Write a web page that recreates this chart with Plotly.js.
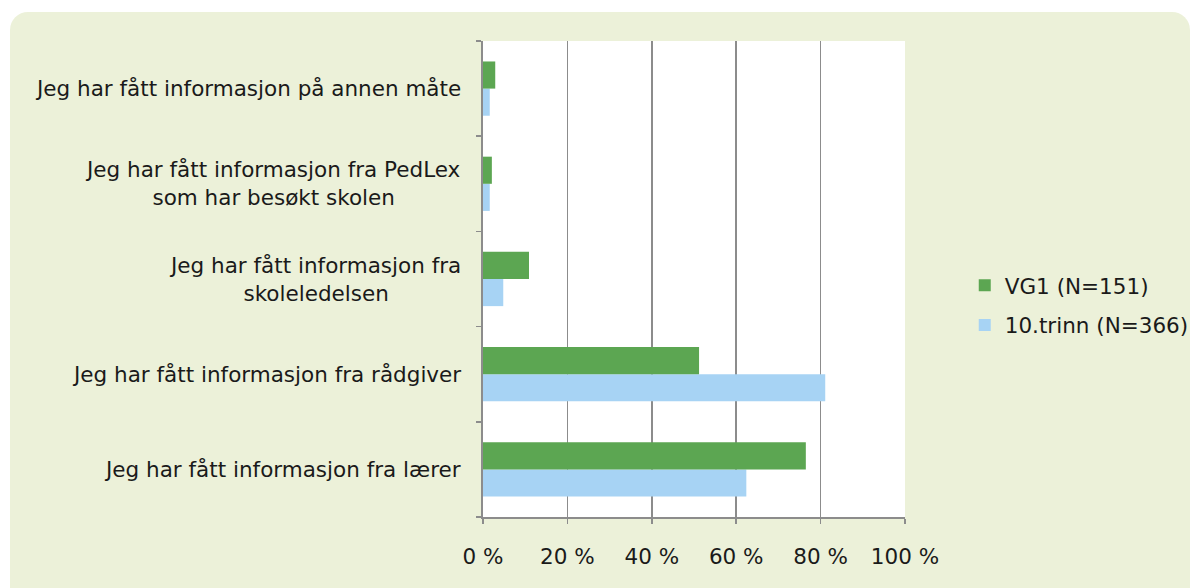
<!DOCTYPE html>
<html>
<head>
<meta charset="utf-8">
<script src="https://cdn.plot.ly/plotly-3.0.1.min.js"></script>
<style>
  html, body { margin: 0; padding: 0; background: #ffffff; }
  #panel { position: absolute; left: 10px; top: 12px; width: 1180px; height: 620px;
           background: #ECF1D9; border-radius: 18px; }
  #chart { position: absolute; left: 0; top: 0; width: 1194px; height: 588px; }
</style>
</head>
<body>
<div id="panel"></div>
<div id="chart"></div>
<script>
// Categories, bottom to top (as Plotly stacks categorical y upward)
const categories = [
  "Jeg har fått informasjon fra lærer",
  "Jeg har fått informasjon fra rådgiver",
  "Jeg har fått informasjon fra<br>skoleledelsen",
  "Jeg har fått informasjon fra PedLex<br>som har besøkt skolen",
  "Jeg har fått informasjon på annen måte"
];
const seriesNames = ["VG1 (N=151)", "10.trinn (N=366)"];
const vg1Values = [76.5, 51.2, 10.9, 2.1, 2.9];
const trinn10Values = [62.4, 81.1, 4.8, 1.6, 1.6];
const xTickValues = [0, 20, 40, 60, 80, 100];
const xTickLabels = ["0 %", "20 %", "40 %", "60 %", "80 %", "100 %"];

const fontFamily = "DejaVu Sans, Verdana, sans-serif";
const fontSize = 21.5;
const textColor = "#1a1a1a";
const gridColor = "#8c8c8c";

const traces = [
  {
    type: "bar", orientation: "h", name: seriesNames[1],
    y: categories, x: trinn10Values, legendrank: 2,
    marker: { color: "#A7D3F4" }, legendgroup: "b", hoverinfo: "x+name"
  },
  {
    type: "bar", orientation: "h", name: seriesNames[0],
    y: categories, x: vg1Values, legendrank: 1,
    marker: { color: "#5CA652" }, legendgroup: "a", hoverinfo: "x+name"
  }
];

const annotations = categories.map(c => ({
  xref: "paper", yref: "y", x: 0, y: c, xshift: -20,
  xanchor: "right", yanchor: "middle", align: "center",
  text: c, showarrow: false,
  font: { family: fontFamily, size: fontSize, color: textColor }
}));

const layout = {
  width: 1194, height: 588,
  paper_bgcolor: "rgba(0,0,0,0)",
  plot_bgcolor: "#ffffff",
  margin: { l: 483, r: 289, t: 41, b: 71, pad: 0, autoexpand: false },
  barmode: "group", bargap: 0.43, bargroupgap: 0,
  font: { family: fontFamily, size: fontSize, color: textColor },
  showlegend: true,
  legend: {
    xref: "container", yref: "container",
    x: 0.808, xanchor: "left", y: 0.481, yanchor: "middle",
    traceorder: "grouped", tracegroupgap: 9,
    bgcolor: "rgba(0,0,0,0)",
    font: { family: fontFamily, size: fontSize, color: textColor }
  },
  xaxis: {
    range: [0, 100], tickvals: xTickValues, ticktext: xTickLabels,
    showgrid: true, gridcolor: gridColor, gridwidth: 1.5,
    showline: true, linecolor: gridColor, linewidth: 1.5,
    ticks: "outside", ticklen: 5, tickcolor: gridColor, tickwidth: 1.5,
    ticklabelstandoff: 15, zeroline: false, fixedrange: true, automargin: false
  },
  yaxis: {
    type: "category", categoryorder: "array", categoryarray: categories,
    showticklabels: false, showgrid: false, zeroline: false,
    showline: true, linecolor: gridColor, linewidth: 2,
    ticks: "outside", tickson: "boundaries", ticklen: 5,
    tickcolor: gridColor, tickwidth: 1.5, fixedrange: true, automargin: false
  },
  annotations: annotations
};

Plotly.newPlot("chart", traces, layout, { displayModeBar: false, staticPlot: true });
</script>
</body>
</html>
